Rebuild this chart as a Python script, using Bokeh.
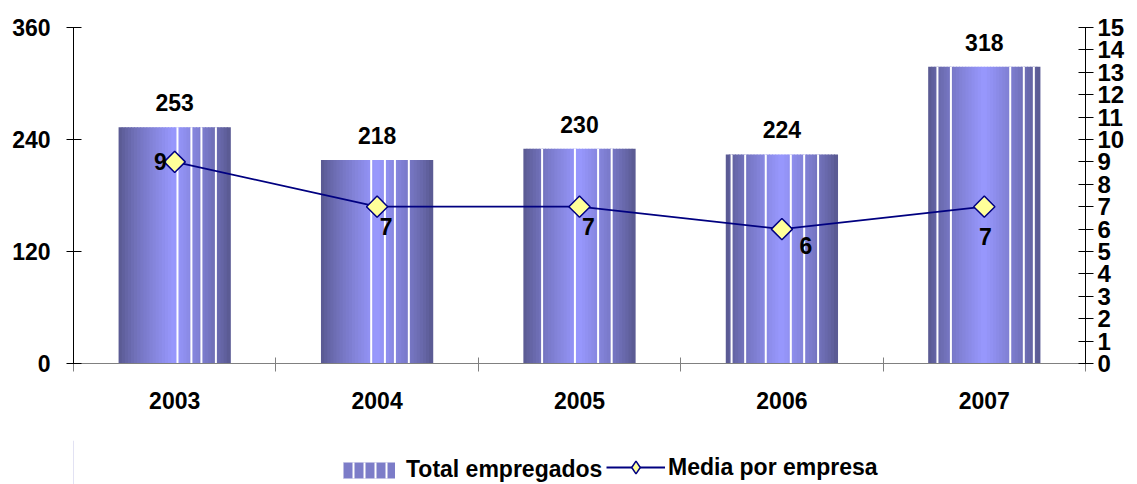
import math
from bokeh.plotting import figure
from bokeh.layouts import column
from bokeh.models import (Range1d, LinearAxis, FixedTicker, ColumnDataSource,
                          Legend, LegendItem)
from bokeh.core.properties import value
from bokeh.embed import file_html
from bokeh.resources import INLINE

# ---- data ----
years = ["2003", "2004", "2005", "2006", "2007"]
total_empregados = [253, 218, 230, 224, 318]
media_por_empresa = [9, 7, 7, 6, 7]
left_ticks = [0, 120, 240, 360]
right_ticks = list(range(0, 16))
series_names = ["Total empregados", "Media por empresa"]

# ---- style ----
FONT = "Liberation Sans"
FS = "23px"
BAR_W = 0.55
N_STRIPS = 36
DARK = (88, 88, 142)
LIGHT = (153, 153, 255)
NAVY = "#000080"
MARK_FILL = "#ffff99"
# white separator positions inside each bar (fraction of bar width)
stripe_pos = [
    [0.525, 0.65, 0.74, 0.87],
    [0.447, 0.57, 0.66, 0.785],
    [0.164, 0.459, 0.667, 0.789],
    [0.048, 0.17, 0.355, 0.58, 0.70, 0.825],
    [0.079, 0.20, 0.733, 0.855, 0.945],
]
# pixel offsets of the line value labels
lab_dx = [-8, 9, 9, 24, 1]
lab_dy = [0, 20, 20, 16, 30]
lab_align = ["right", "center", "center", "center", "center"]

centers = [i + 0.5 for i in range(len(years))]

p = figure(frame_width=1012, frame_height=336,
           x_range=Range1d(0, 5), y_range=Range1d(0, 360),
           output_backend="svg", toolbar_location=None,
           min_border_left=73, min_border_right=52, min_border_top=27,
           min_border_bottom=77, outline_line_color=None,
           background_fill_color="white", border_fill_color="white")
p.grid.visible = False
p.extra_y_ranges = {"r": Range1d(0, 15)}

# ---- gradient bars as strips ----
sx, stop, scol = [], [], []
sw = BAR_W / N_STRIPS
for c, v in zip(centers, total_empregados):
    for k in range(N_STRIPS):
        f = (k + 0.5) / N_STRIPS
        t = 1 - abs(2 * f - 1)
        t = t ** 0.8
        r, g, b = (int(DARK[j] + (LIGHT[j] - DARK[j]) * t) for j in range(3))
        sx.append(c - BAR_W / 2 + (k + 0.5) * sw)
        stop.append(v)
        scol.append("#%02x%02x%02x" % (r, g, b))
src = ColumnDataSource(dict(x=sx, top=stop, color=scol))
p.vbar(x="x", top="top", bottom=0, width=sw * 1.3, fill_color="color",
       line_color=None, source=src)

# white separator lines
wx, wy1 = [], []
for c, v, poss in zip(centers, total_empregados, stripe_pos):
    for f in poss:
        wx.append(c - BAR_W / 2 + f * BAR_W)
        wy1.append(v)
p.segment(x0=wx, x1=wx, y0=[0] * len(wx), y1=wy1, line_color="white",
          line_width=2)

# bar value labels
p.text(x=centers, y=total_empregados, text=[str(v) for v in total_empregados],
       text_font=value(FONT), text_font_style="bold", text_font_size=FS,
       text_align="center", text_baseline="bottom", y_offset=-16,
       text_color="black")

# ---- line series ----
p.line(x=centers, y=media_por_empresa, y_range_name="r",
       line_color=NAVY, line_width=1.8)
p.scatter(x=centers, y=media_por_empresa, y_range_name="r",
          marker="square", angle=math.pi / 4, size=15,
          fill_color=MARK_FILL, line_color=NAVY, line_width=1.5)
for i in range(len(years)):
    p.text(x=[centers[i]], y=[media_por_empresa[i]], y_range_name="r",
           text=[str(media_por_empresa[i])], text_font=value(FONT),
           text_font_style="bold", text_font_size=FS,
           text_align=lab_align[i], text_baseline="middle",
           x_offset=lab_dx[i], y_offset=lab_dy[i], text_color="black")

# ---- axes ----
xa = p.xaxis[0]
xa.ticker = FixedTicker(ticks=centers, minor_ticks=[0, 1, 2, 3, 4, 5])
xa.major_label_overrides = {c: y for c, y in zip(centers, years)}
xa.major_tick_in = 0
xa.major_tick_out = 0
xa.minor_tick_in = 6
xa.minor_tick_out = 8
xa.minor_tick_line_color = "#808080"
xa.axis_line_color = "#808080"
xa.major_label_standoff = 20
xa.major_label_text_font = FONT
xa.major_label_text_font_style = "bold"
xa.major_label_text_font_size = FS
xa.major_label_text_color = "black"

ya = p.yaxis[0]
ya.ticker = FixedTicker(ticks=left_ticks)
ya.minor_tick_line_color = None
ya.major_tick_in = 8
ya.major_tick_out = 7
ya.major_label_standoff = 16
ya.axis_line_color = "black"
ya.major_label_text_font = FONT
ya.major_label_text_font_style = "bold"
ya.major_label_text_font_size = FS
ya.major_label_text_color = "black"

ra = LinearAxis(y_range_name="r", ticker=FixedTicker(ticks=right_ticks))
ra.minor_tick_line_color = None
ra.major_tick_in = 7
ra.major_tick_out = 8
ra.major_label_standoff = 4
ra.axis_line_color = "black"
ra.major_label_text_font = FONT
ra.major_label_text_font_style = "bold"
ra.major_label_text_font_size = "24px"
ra.major_label_text_color = "black"
p.add_layout(ra, "right")

# ---- legend strip (separate small figure below the chart) ----
lg = figure(frame_width=1137, frame_height=44,
            x_range=Range1d(0, 1), y_range=Range1d(0, 1),
            output_backend="svg", toolbar_location=None,
            x_axis_type=None, y_axis_type=None, min_border=0,
            outline_line_color=None, background_fill_color="white",
            border_fill_color="white")
lg.grid.visible = False
# swatch renderers sit outside the visible range; only their legend shows
bar_sw = lg.vbar(x=[-10], top=[1], width=0.5, fill_color="#7c7cc8",
                 line_color=None, hatch_pattern="vertical_line",
                 hatch_color="white", hatch_scale=11, hatch_weight=2)
ln_sw = lg.line(x=[-10, -9], y=[0.5, 0.5], line_color=NAVY, line_width=1.8)
mk_sw = lg.scatter(x=[-10], y=[0.5], marker="diamond", size=15,
                   fill_color=MARK_FILL, line_color=NAVY, line_width=1.5)
common = dict(orientation="horizontal", label_text_font=FONT,
              label_text_font_style="bold", label_text_font_size=FS,
              label_text_color="black", spacing=0, padding=0, margin=0,
              border_line_color=None, background_fill_alpha=0)
legend1 = Legend(items=[LegendItem(label=series_names[0], renderers=[bar_sw])],
                 location=(336, 1), glyph_width=65, glyph_height=20,
                 label_standoff=5, **common)
legend2 = Legend(items=[LegendItem(label=series_names[1],
                                   renderers=[ln_sw, mk_sw])],
                 location=(606, 1), glyph_width=59, glyph_height=32,
                 label_standoff=3, **common)
lg.add_layout(legend1, "center")
lg.add_layout(legend2, "center")

layout = column(p, lg, spacing=0)
open("out.html", "w").write(file_html(layout, INLINE))
